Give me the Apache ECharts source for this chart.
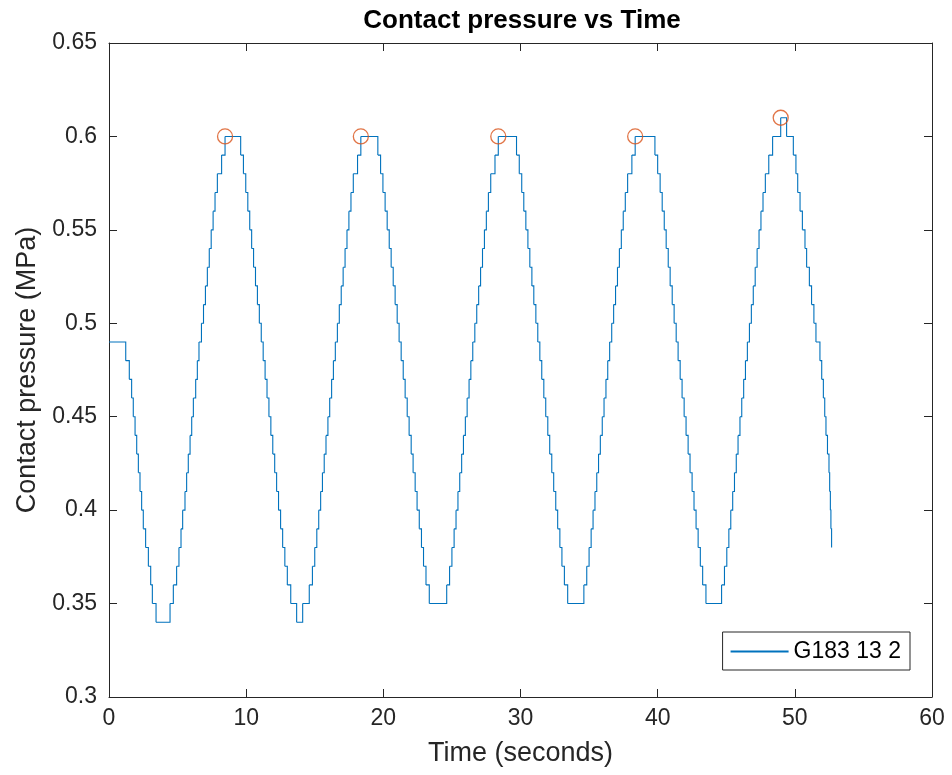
<!DOCTYPE html>
<html><head><meta charset="utf-8">
<script src="https://cdn.jsdelivr.net/npm/echarts@6/dist/echarts.min.js"></script>
<style>html,body{margin:0;padding:0;background:#fff}#c{width:952px;height:775px}</style>
</head><body><div id="c"></div>
<script>
const FONT = "'Liberation Sans', Arial, Helvetica, sans-serif";
const chartTitle = 'Contact pressure vs Time';
const xName = 'Time (seconds)';
const yName = 'Contact pressure (MPa)';
const seriesName = 'G183 13 2';
const xTicks = [0, 10, 20, 30, 40, 50, 60];
const xTickLabels = ['0', '10', '20', '30', '40', '50', '60'];
const yTicks = [0.3, 0.35, 0.4, 0.45, 0.5, 0.55, 0.6, 0.65];
const yTickLabels = ['0.3', '0.35', '0.4', '0.45', '0.5', '0.55', '0.6', '0.65'];

// time (s) at which each pressure level begins (step data)
const times = [
  0, 1.22, 1.48, 1.65, 1.77, 1.90, 2.02, 2.14, 2.26, 2.38, 2.50, 2.67, 2.87, 3.04, 3.16, 3.43,
  4.45, 4.69, 4.93, 5.10, 5.25, 5.37, 5.54, 5.66, 5.78, 5.91, 6.03, 6.15, 6.32, 6.44, 6.56, 6.74, 6.89, 7.03, 7.17, 7.31, 7.45, 7.59, 7.73, 7.90, 8.21, 8.46,
  9.60, 9.80, 9.97, 10.12, 10.26, 10.40, 10.54, 10.68, 10.82, 10.96, 11.10, 11.24, 11.38, 11.52, 11.66, 11.80, 11.94, 12.08, 12.22, 12.36, 12.51, 12.66, 12.82, 13.00, 13.25, 13.68, 14.12,
  14.60, 14.83, 15.00, 15.15, 15.29, 15.43, 15.56, 15.69, 15.82, 15.96, 16.09, 16.23, 16.36, 16.50, 16.65, 16.79, 16.93, 17.07, 17.21, 17.35, 17.49, 17.64, 17.81, 18.12, 18.36,
  19.60, 19.80, 19.97, 20.13, 20.28, 20.43, 20.57, 20.72, 20.86, 21.01, 21.15, 21.30, 21.45, 21.59, 21.74, 21.88, 22.03, 22.17, 22.32, 22.46, 22.62, 22.78, 22.93, 23.11, 23.35,
  24.62, 24.83, 25.00, 25.16, 25.30, 25.44, 25.57, 25.71, 25.84, 25.98, 26.11, 26.25, 26.38, 26.52, 26.67, 26.81, 26.95, 27.09, 27.23, 27.37, 27.51, 27.66, 27.83, 28.14, 28.38,
  29.71, 29.91, 30.09, 30.24, 30.39, 30.54, 30.68, 30.83, 30.97, 31.12, 31.26, 31.41, 31.55, 31.70, 31.84, 31.99, 32.13, 32.28, 32.42, 32.57, 32.71, 32.87, 33.02, 33.20, 33.44,
  34.62, 34.83, 35.00, 35.15, 35.29, 35.43, 35.56, 35.69, 35.82, 35.96, 36.09, 36.23, 36.36, 36.50, 36.65, 36.79, 36.93, 37.07, 37.21, 37.35, 37.49, 37.64, 37.81, 38.12, 38.36,
  39.80, 40.00, 40.18, 40.33, 40.48, 40.62, 40.77, 40.91, 41.06, 41.20, 41.35, 41.49, 41.64, 41.78, 41.93, 42.07, 42.22, 42.36, 42.51, 42.65, 42.80, 42.95, 43.11, 43.28, 43.52,
  44.66, 44.87, 45.04, 45.19, 45.33, 45.47, 45.60, 45.73, 45.86, 46.00, 46.13, 46.27, 46.40, 46.54, 46.69, 46.83, 46.97, 47.11, 47.25, 47.39, 47.53, 47.68, 47.85, 48.10, 48.38, 48.97, 49.40,
  49.89, 50.08, 50.21, 50.38, 50.55, 50.74, 50.86, 51.06, 51.22, 51.39, 51.54, 51.83, 51.96, 52.08, 52.18, 52.27, 52.38, 52.49, 52.54, 52.59, 52.63, 52.68
];

// pressure level (MPa) held from the matching time
const pressure = [
  0.49, 0.48, 0.47, 0.46, 0.45, 0.44, 0.43, 0.42, 0.41, 0.40, 0.39, 0.38, 0.37, 0.36, 0.35, 0.34,
  0.35, 0.36, 0.37, 0.38, 0.39, 0.40, 0.41, 0.42, 0.43, 0.44, 0.45, 0.46, 0.47, 0.48, 0.49, 0.50, 0.51, 0.52, 0.53, 0.54, 0.55, 0.56, 0.57, 0.58, 0.59, 0.60,
  0.59, 0.58, 0.57, 0.56, 0.55, 0.54, 0.53, 0.52, 0.51, 0.50, 0.49, 0.48, 0.47, 0.46, 0.45, 0.44, 0.43, 0.42, 0.41, 0.40, 0.39, 0.38, 0.37, 0.36, 0.35, 0.34, 0.35,
  0.36, 0.37, 0.38, 0.39, 0.40, 0.41, 0.42, 0.43, 0.44, 0.45, 0.46, 0.47, 0.48, 0.49, 0.50, 0.51, 0.52, 0.53, 0.54, 0.55, 0.56, 0.57, 0.58, 0.59, 0.60,
  0.59, 0.58, 0.57, 0.56, 0.55, 0.54, 0.53, 0.52, 0.51, 0.50, 0.49, 0.48, 0.47, 0.46, 0.45, 0.44, 0.43, 0.42, 0.41, 0.40, 0.39, 0.38, 0.37, 0.36, 0.35,
  0.36, 0.37, 0.38, 0.39, 0.40, 0.41, 0.42, 0.43, 0.44, 0.45, 0.46, 0.47, 0.48, 0.49, 0.50, 0.51, 0.52, 0.53, 0.54, 0.55, 0.56, 0.57, 0.58, 0.59, 0.60,
  0.59, 0.58, 0.57, 0.56, 0.55, 0.54, 0.53, 0.52, 0.51, 0.50, 0.49, 0.48, 0.47, 0.46, 0.45, 0.44, 0.43, 0.42, 0.41, 0.40, 0.39, 0.38, 0.37, 0.36, 0.35,
  0.36, 0.37, 0.38, 0.39, 0.40, 0.41, 0.42, 0.43, 0.44, 0.45, 0.46, 0.47, 0.48, 0.49, 0.50, 0.51, 0.52, 0.53, 0.54, 0.55, 0.56, 0.57, 0.58, 0.59, 0.60,
  0.59, 0.58, 0.57, 0.56, 0.55, 0.54, 0.53, 0.52, 0.51, 0.50, 0.49, 0.48, 0.47, 0.46, 0.45, 0.44, 0.43, 0.42, 0.41, 0.40, 0.39, 0.38, 0.37, 0.36, 0.35,
  0.36, 0.37, 0.38, 0.39, 0.40, 0.41, 0.42, 0.43, 0.44, 0.45, 0.46, 0.47, 0.48, 0.49, 0.50, 0.51, 0.52, 0.53, 0.54, 0.55, 0.56, 0.57, 0.58, 0.59, 0.60, 0.61, 0.60,
  0.59, 0.58, 0.57, 0.56, 0.55, 0.54, 0.53, 0.52, 0.51, 0.50, 0.49, 0.48, 0.47, 0.46, 0.45, 0.44, 0.43, 0.42, 0.41, 0.40, 0.39, 0.38
];

const peakTimes = [8.46, 18.36, 28.38, 38.36, 48.97];
const peakPressure = [0.60, 0.60, 0.60, 0.60, 0.61];

const AX = '#262626';
const LINE = '#0072BD';
// each item: level start time, level, next level start time, next level
const stepData = times.map((t, i) => {
  const last = i === times.length - 1;
  return [t, pressure[i], last ? t : times[i + 1], last ? pressure[i] : pressure[i + 1]];
});
const peakData = peakTimes.map((t, i) => [t, peakPressure[i]]);

function tickLabel(ticks, labels, v) {
  let best = 0;
  for (let i = 1; i < ticks.length; i++) {
    if (Math.abs(ticks[i] - v) < Math.abs(ticks[best] - v)) best = i;
  }
  return labels[best];
}

function axisCommon(pos, showLabel, isX) {
  const ticks = isX ? xTicks : yTicks;
  const labels = isX ? xTickLabels : yTickLabels;
  return {
    type: 'value', position: pos,
    min: ticks[0], max: ticks[ticks.length - 1], interval: Math.round((ticks[1] - ticks[0]) * 1000) / 1000,
    axisLine: { show: true, onZero: false, lineStyle: { color: AX, width: 1 } },
    axisTick: { show: true, inside: true, length: 8, lineStyle: { color: AX, width: 1 } },
    axisLabel: {
      show: showLabel, fontSize: 23, color: AX, fontFamily: FONT, margin: isX ? 10 : 12,
      formatter: v => tickLabel(ticks, labels, v)
    },
    splitLine: { show: false }
  };
}

const chart = echarts.init(document.getElementById('c'), null, { renderer: 'canvas' });
const xBottom = Object.assign(axisCommon('bottom', true, true), {
  name: xName, nameLocation: 'middle', nameGap: 43,
  nameTextStyle: { fontSize: 27, color: AX, fontFamily: FONT }
});
const yLeft = Object.assign(axisCommon('left', true, false), {
  name: yName, nameLocation: 'middle', nameGap: 67, nameRotate: 90,
  nameTextStyle: { fontSize: 27, color: AX, fontFamily: FONT }
});
chart.setOption({
  animation: false,
  backgroundColor: '#ffffff',
  grid: { left: 109, right: 20, top: 43, bottom: 78, containLabel: false, outerBoundsMode: 'none' },
  graphic: [{
    type: 'text', x: 522, y: 21,
    style: { text: chartTitle, font: 'bold 26px ' + FONT, fill: '#000', align: 'center', verticalAlign: 'middle' }
  }],
  xAxis: [xBottom, axisCommon('top', false, true)],
  yAxis: [yLeft, axisCommon('right', false, false)],
  legend: {
    right: 42, top: 632, orient: 'vertical',
    backgroundColor: '#fff', borderColor: AX, borderWidth: 1,
    padding: [8, 9, 7, 8], itemWidth: 58, itemHeight: 2, itemGap: 0,
    textStyle: { fontSize: 23, color: '#000', fontFamily: FONT },
    data: [{ name: seriesName, icon: 'rect', itemStyle: { color: LINE } }]
  },
  series: [
    {
      name: seriesName, type: 'custom', data: stepData,
      encode: { x: [0, 2], y: [1, 3] },
      itemStyle: { color: LINE },
      clip: true, z: 2,
      renderItem: function (params, api) {
        const p0 = api.coord([api.value(0), api.value(1)]);
        const p1 = api.coord([api.value(2), api.value(1)]);
        const p2 = api.coord([api.value(2), api.value(3)]);
        return {
          type: 'polyline', silent: true,
          shape: { points: [p0, p1, p2] },
          style: { stroke: LINE, lineWidth: 1.1, fill: null }
        };
      }
    },
    {
      name: 'peaks', type: 'scatter', data: peakData, symbol: 'circle', symbolSize: 15,
      itemStyle: { color: 'rgba(0,0,0,0)', borderColor: '#D95319', borderWidth: 1.3 },
      z: 3
    }
  ]
});
</script>
</body></html>
